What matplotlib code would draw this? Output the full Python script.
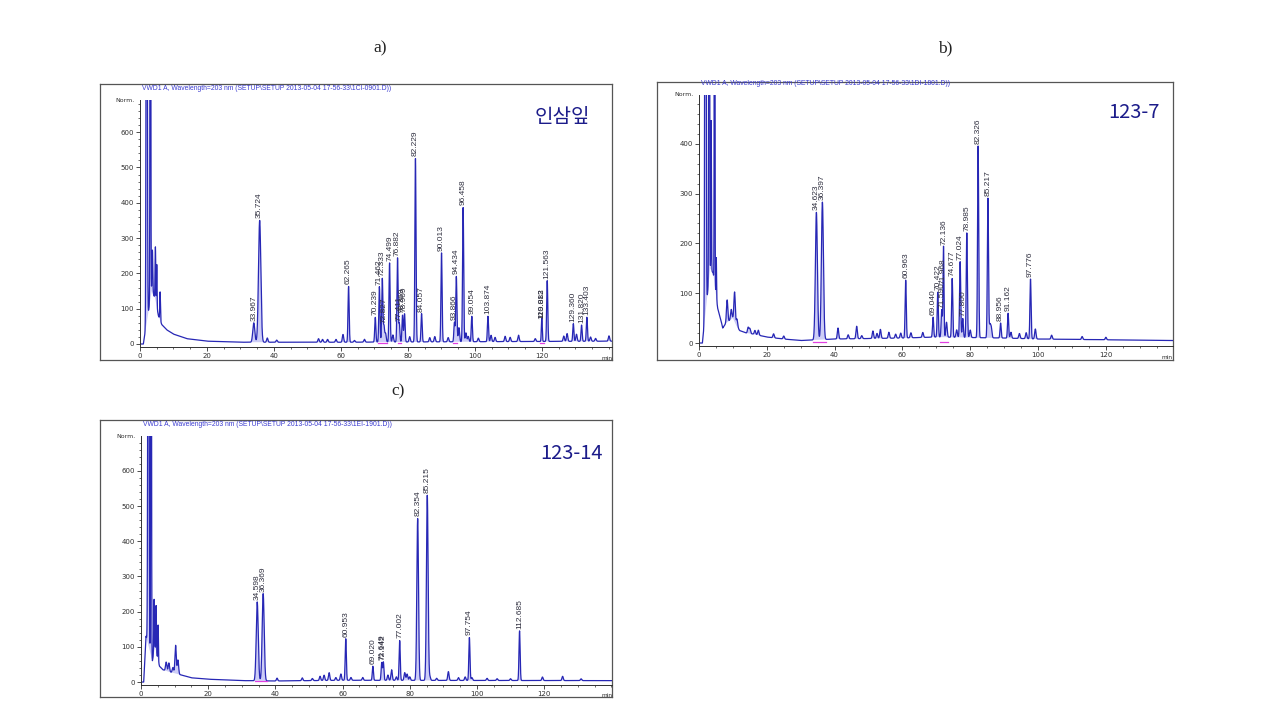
import numpy as np
import matplotlib
matplotlib.use("Agg")
import matplotlib.pyplot as plt
from matplotlib.ticker import MultipleLocator, FixedLocator

W, H = 1261, 727

# ---- a) 인삼잎 ----
a_rt = [33.967, 35.724, 62.265, 70.239, 71.462, 72.333, 72.827, 74.499, 76.882, 77.411,
        78.369, 78.969, 82.229, 84.057, 90.013, 93.866, 94.434, 96.458, 99.054, 103.874,
        119.882, 120.013, 121.563, 129.360, 131.820, 133.403]
a_height = [55, 345, 158, 70, 157, 180, 45, 224, 238, 52,
            76, 80, 520, 80, 252, 55, 185, 380, 72, 72,
            42, 35, 172, 50, 46, 68]
a_label = ["33.967", "35.724", "62.265", "70.239", "71.462", "72.333", "72.827", "74.499",
           "76.882", "77.411", "78.369", "78.969", "82.229", "84.057", "90.013", "93.866",
           "94.434", "96.458", "99.054", "103.874", "119.882", "120.013", "121.563",
           "129.360", "131.820", "133.403"]
a_broad = {33.967: 0.3, 35.724: 0.35, 119.882: 0.12, 120.013: 0.12}
a_minor_rt = [38.0, 40.8, 53.3, 54.5, 56.0, 58.5, 60.6, 64.0, 67.0, 73.3, 75.5, 80.5, 86.5,
              88.0, 92.0, 95.2, 97.3, 98.0, 101.0, 104.8, 106.0, 109.0, 110.5, 113.0, 118.0,
              126.5, 127.5, 130.3, 134.5, 136.0, 140.0]
a_minor_h = [12, 6, 10, 8, 8, 8, 22, 5, 8, 25, 20, 15, 12, 15, 12, 40, 25, 15, 10, 18, 12,
             15, 12, 18, 8, 15, 22, 20, 12, 8, 15]
a_solvent = [(2.0, 2000, 0.15), (3.1, 2000, 0.1), (3.7, 120, 0.12), (4.6, 150, 0.1),
             (5.0, 120, 0.08), (6.0, 80, 0.1)]
a_base_t = [0, 1.0, 3.5, 4.5, 5.5, 6.5, 8, 10, 14, 20, 30, 60, 140]
a_base_v = [0, 0, 150, 130, 80, 55, 40, 28, 15, 8, 5, 5, 8]
a_pink = [(71.0, 73.8), (77.0, 78.0), (93.5, 94.5), (119.5, 120.5)]

# ---- b) 123-7 ----
b_rt = [34.623, 36.397, 60.963, 69.040, 70.422, 71.590, 71.968, 72.136, 74.677, 77.024,
        77.800, 78.985, 82.326, 85.217, 88.956, 91.162, 97.776]
b_height = [256, 276, 116, 40, 90, 55, 30, 170, 118, 152, 38, 210, 385, 280, 30, 50, 120]
b_label = ["34.623", "36.397", "60.963", "69.040", "70.422", "71.590", "71.968", "72.136",
           "74.677", "77.024", "77.800", "78.985", "82.326", "85.217", "88.956", "91.162",
           "97.776"]
b_broad = {34.623: 0.3, 36.397: 0.3, 71.968: 0.12, 72.136: 0.13}
b_minor_rt = [8.3, 9.5, 10.5, 11.2, 14.5, 15.0, 16.5, 17.5, 22.0, 25.0, 41.0, 44.0, 46.5,
              48.0, 51.3, 52.5, 53.5, 56.0, 58.0, 59.5, 62.5, 66.0, 73.0, 76.0, 80.0, 85.8,
              86.2, 92.0, 94.5, 96.5, 99.2, 104.0, 113.0, 120.0]
b_minor_h = [45, 20, 60, 15, 12, 10, 8, 10, 8, 6, 22, 8, 25, 6, 15, 10, 18, 12, 8, 10, 10,
             10, 30, 15, 15, 25, 20, 12, 10, 12, 20, 8, 6, 5]
b_solvent = [(1.9, 2000, 0.15), (3.0, 2000, 0.1), (3.6, 300, 0.08), (4.6, 2000, 0.08),
             (5.1, 80, 0.08)]
b_base_t = [0, 1.0, 3.3, 4.2, 5.5, 6.5, 7, 8, 9, 10, 11, 12, 14, 16, 20, 25, 30, 40, 60,
            70, 90, 100, 140]
b_base_v = [0, 0, 150, 140, 70, 45, 30, 40, 45, 50, 35, 25, 20, 18, 12, 8, 5, 8, 10, 12,
            10, 8, 5]
b_pink = [(33.5, 37.5), (71.0, 73.5)]

# ---- c) 123-14 ----
c_rt = [34.598, 36.369, 60.953, 69.020, 71.649, 72.142, 77.002, 82.354, 85.215, 97.754,
        112.685]
c_height = [224, 248, 118, 40, 50, 52, 113, 460, 526, 122, 141]
c_label = ["34.598", "36.369", "60.953", "69.020", "71.649", "72.142", "77.002", "82.354",
           "85.215", "97.754", "112.685"]
c_broad = {34.598: 0.3, 36.369: 0.3, 82.354: 0.25, 85.215: 0.25}
c_minor_rt = [7.5, 8.3, 9.5, 10.3, 11.0, 40.5, 48.0, 51.0, 53.3, 54.5, 56.0, 58.0, 59.5,
              62.5, 66.0, 73.5, 74.6, 76.0, 78.5, 79.2, 80.0, 86.0, 88.0, 91.5, 94.5, 96.5,
              98.5, 103.0, 106.0, 110.0, 119.5, 125.5, 131.0]
c_minor_h = [25, 25, 15, 80, 40, 8, 8, 6, 12, 15, 22, 8, 18, 8, 8, 15, 30, 10, 22, 18, 10,
             10, 6, 25, 8, 10, 8, 6, 5, 5, 10, 12, 5]
c_solvent = [(2.2, 2000, 0.15), (3.0, 2000, 0.1), (3.9, 150, 0.1), (4.5, 130, 0.08),
             (5.1, 100, 0.08)]
c_base_t = [0, 0.8, 1.5, 3.4, 4.2, 5.5, 6.5, 8, 10, 12, 15, 20, 25, 30, 40, 60, 140]
c_base_v = [0, 0, 130, 60, 100, 45, 35, 30, 25, 20, 12, 8, 6, 4, 3, 5, 4]
c_pink = [(33.8, 37.5)]

HEADER = "VWD1 A, Wavelength=203 nm (SETUP\\SETUP 2013-05-04 17-56-33\\{})"

LINE = "#2727b5"
FILL = "#a4a4f0"
NAVY = "#1c1c8a"


def rect(l, t, r, b):
    return [l / W, 1 - b / H, (r - l) / W, (b - t) / H]


def build_trace(t, base_t, base_v, solvent, rt, height, broad, minor_rt, minor_h):
    base = np.interp(t, base_t, base_v)
    y = base.copy()
    for t0, h, s in solvent:
        y += h * np.exp(-0.5 * ((t - t0) / s) ** 2)
    for t0, h in zip(rt, height):
        s = broad.get(t0, 0.17)
        y += h * np.exp(-0.5 * ((t - t0) / s) ** 2)
    for t0, h in zip(minor_rt, minor_h):
        y += h * np.exp(-0.5 * ((t - t0) / 0.2) ** 2)
    return base, y


def panel(fig, frame, axbox, xmax, ylim, ymax_tick, header, tag, tag_x, data):
    fr = fig.add_axes(rect(*frame))
    fr.set_xticks([])
    fr.set_yticks([])
    fr.patch.set_alpha(0)
    for sp in fr.spines.values():
        sp.set_color("#555555")
        sp.set_linewidth(0.9)

    ax = fig.add_axes(rect(*axbox))
    ax.patch.set_alpha(0)
    rt, height, label, broad, minor_rt, minor_h, solvent, base_t, base_v, pink = data
    t = np.arange(0, xmax, 0.02)
    base, y = build_trace(t, base_t, base_v, solvent, rt, height, broad, minor_rt, minor_h)
    ax.fill_between(t, base, y, color=FILL, alpha=0.55, lw=0)
    ax.plot(t, y, color=LINE, lw=0.9)
    for a, b in pink:
        ax.plot([a, b], [3, 3], color="#e040e0", lw=0.9)
    # labels sit just above the drawn peak top
    for t0, lab in zip(rt, label):
        top = y[np.argmin(np.abs(t - t0))]
        ax.annotate(lab, (t0, top), xytext=(0, 1.5), textcoords="offset points",
                    rotation=90, ha="center", va="bottom", fontsize=6,
                    color="#303040", family="Liberation Sans")

    ax.set_xlim(0, xmax)
    ax.set_ylim(*ylim)
    for s in ["top", "right"]:
        ax.spines[s].set_visible(False)
    for s in ["left", "bottom"]:
        ax.spines[s].set_color("#303030")
        ax.spines[s].set_linewidth(0.7)
    ax.xaxis.set_major_locator(FixedLocator(range(0, 121, 20)))
    ax.xaxis.set_minor_locator(MultipleLocator(5))
    ax.yaxis.set_major_locator(FixedLocator(range(0, ymax_tick + 1, 100)))
    ax.yaxis.set_minor_locator(MultipleLocator(20))
    ax.tick_params(which="major", length=3, width=0.6, labelsize=5, pad=1.5,
                   colors="#303030")
    ax.tick_params(which="minor", length=1.6, width=0.5, colors="#303030")
    ax.text(-0.012, 1.0, "Norm.", transform=ax.transAxes, ha="right", va="center",
            fontsize=4.5, color="#303030")
    ax.text(1.0, -0.035, "min", transform=ax.transAxes, ha="right", va="top",
            fontsize=4.2, color="#303030")
    ax.text(0.005, 1.045, header, transform=ax.transAxes, ha="left", va="center",
            fontsize=4.9, color="#3a3ad0", family="Liberation Sans")
    ax.text(tag_x, 0.93, tag, transform=ax.transAxes, ha="right", va="center",
            fontsize=14.5, color=NAVY,
            family=["Noto Sans CJK KR", "DejaVu Sans"])
    return ax


fig = plt.figure(figsize=(W / 100, H / 100), dpi=100)

panel(fig, (100, 84, 612, 360), (140, 100, 612, 347), 140.9, (-8.5, 691), 600,
      HEADER.format("1CI-0901.D)"), "인삼잎", 0.953,
      (a_rt, a_height, a_label, a_broad, a_minor_rt, a_minor_h, a_solvent,
       a_base_t, a_base_v, a_pink))
panel(fig, (657, 82, 1173, 360), (699, 95, 1173, 346), 139.8, (-6, 498), 400,
      HEADER.format("1DI-1801.D)"), "123-7", 0.972,
      (b_rt, b_height, b_label, b_broad, b_minor_rt, b_minor_h, b_solvent,
       b_base_t, b_base_v, b_pink))
panel(fig, (100, 420, 612, 697), (141, 436, 612, 684.5), 140.2, (-7, 699), 600,
      HEADER.format("1EI-1901.D)"), "123-14", 0.981,
      (c_rt, c_height, c_label, c_broad, c_minor_rt, c_minor_h, c_solvent,
       c_base_t, c_base_v, c_pink))

for txt, x, y in [("a)", 380, 48), ("b)", 945, 48), ("c)", 398, 391)]:
    fig.text(x / W, 1 - y / H, txt, ha="center", va="center", fontsize=12.5,
             family="Liberation Serif", color="#222222")

fig.savefig("out.png", dpi=100)
